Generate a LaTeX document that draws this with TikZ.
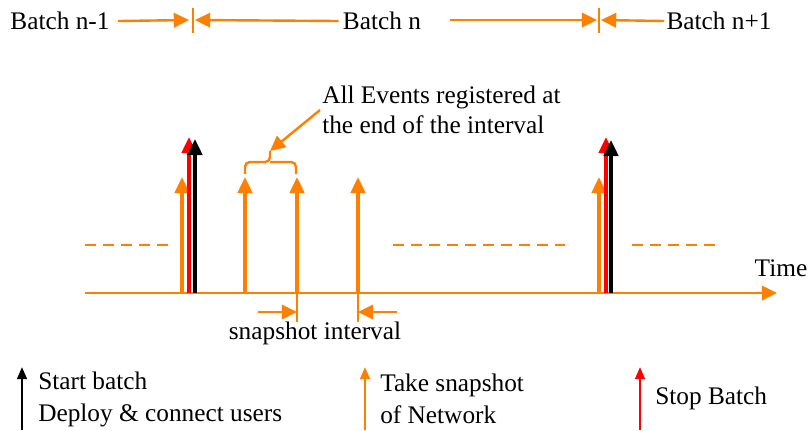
\documentclass[tikz,border=0pt]{standalone}
\usepackage{fontspec}
\setmainfont{Liberation Serif}
\usetikzlibrary{arrows.meta}
\definecolor{evorange}{RGB}{255,128,0}
\definecolor{evred}{RGB}{255,0,0}
\tikzset{
  lbl/.style={inner sep=0pt, font=\fontsize{18}{22.7}\selectfont},
  evt/.style={line width=0.085cm, -{Triangle[length=0.4cm,width=0.36cm]}},
  rule/.style={evorange, line width=0.06cm, -{Triangle[length=0.38cm,width=0.36cm]}},
  key/.style={line width=0.06cm, -{Triangle[length=0.3cm,width=0.24cm]}}
}
\begin{document}
\begin{tikzpicture}[x=0.025cm,y=-0.025cm]
  \useasboundingbox (0,0) rectangle (809,430);
  % batch labels
  \node[lbl] (bp) at (60,21) {Batch n-1};
  \node[lbl] (bn) at (382,21) {Batch n};
  \node[lbl] (bx) at (719,21) {Batch n+1};
  \coordinate (c1) at (193,20);
  \coordinate (c2) at (599,20);
  \coordinate (nr) at (450,20);
  \draw [evorange, line width=0.06cm] (193,8) -- (193,33);
  \draw [evorange, line width=0.06cm] (599,8) -- (599,33);
  \draw [rule] ([xshift=0.2cm]bp.east) -- ([xshift=-0.1cm]c1);
  \draw [rule] ([xshift=-0.1cm]bn.west) -- ([xshift=0.05cm]c1);
  \draw [rule] (nr) -- ([xshift=-0.05cm]c2);
  \draw [rule] ([xshift=-0.05cm]bx.west) -- ([xshift=0.05cm]c2);
  % dashed levels
  \draw [evorange, line width=0.06cm, dash pattern=on 0.28cm off 0.17cm] (85,245) -- (170,245);
  \draw [evorange, line width=0.06cm, dash pattern=on 0.28cm off 0.17cm] (393,245) -- (565,245);
  \draw [evorange, line width=0.06cm, dash pattern=on 0.28cm off 0.17cm] (632,245) -- (715,245);
  % time axis
  \coordinate (t0) at (85,293);
  \coordinate (t1) at (777,293);
  \draw [rule, line width=0.07cm] (t0) -- (t1);
  \node[lbl] (time) at (781,268) {Time};
  % snapshots
  \foreach \x/\n in {182/a,245/b,297/c,358/d,599/e} {
    \coordinate (s\n) at (\x,293);
    \coordinate (s\n t) at (\x,177);
    \draw [evt, evorange] (s\n) -- (s\n t);
  }
  % stop and start
  \coordinate (r1) at (189,293);
  \coordinate (r1t) at (189,137);
  \coordinate (k1) at (195,293);
  \coordinate (k1t) at (195,139);
  \coordinate (r2) at (606,293);
  \coordinate (r2t) at (606,137);
  \coordinate (k2) at (611,293);
  \coordinate (k2t) at (611,140);
  \draw [evt, evred] (r1) -- (r1t);
  \draw [evt, black] (k1) -- (k1t);
  \draw [evt, evred] (r2) -- (r2t);
  \draw [evt, black] (k2) -- (k2t);
  % bracket and note
  \coordinate (bt) at (270,151);
  \draw [evorange, line width=0.06cm, rounded corners=0.12cm]
    (245,174) |- (270,162) -- (bt);
  \draw [evorange, line width=0.06cm, rounded corners=0.12cm]
    (296,174) |- (270,162);
  \node[lbl, align=left, anchor=west, font=\fontsize{18}{21.3}\selectfont]
    (note) at (322,110) {All Events registered at\\the end of the interval};
  \draw [rule] ([xshift=-0.05cm]note.west) -- (bt);
  % snapshot interval
  \draw [evorange, line width=0.06cm] (sc) -- (297,322);
  \draw [evorange, line width=0.06cm] (sd) -- (358,322);
  \coordinate (ia) at (297,312);
  \coordinate (ib) at (358,312);
  \draw [rule] (258,312) -- (ia);
  \draw [rule] (397,312) -- (ib);
  \node[lbl] (ivl) at (315,333) {snapshot interval};
  % legend
  \coordinate (l1) at (22,430);
  \coordinate (l1t) at (22,367);
  \coordinate (l2) at (365,430);
  \coordinate (l2t) at (365,367);
  \coordinate (l3) at (640,430);
  \coordinate (l3t) at (640,367);
  \draw [key, black] (l1) -- (l1t);
  \draw [key, evorange] (l2) -- (l2t);
  \draw [key, evred] (l3) -- (l3t);
  \node[lbl, align=left, anchor=west] (kb) at (38,399) {Start batch\\Deploy \& connect users};
  \node[lbl, align=left, anchor=west] (ks) at (380,399) {Take snapshot\\of Network};
  \node[lbl, anchor=west] (kr) at (655,398) {Stop Batch};
\end{tikzpicture}
\end{document}
